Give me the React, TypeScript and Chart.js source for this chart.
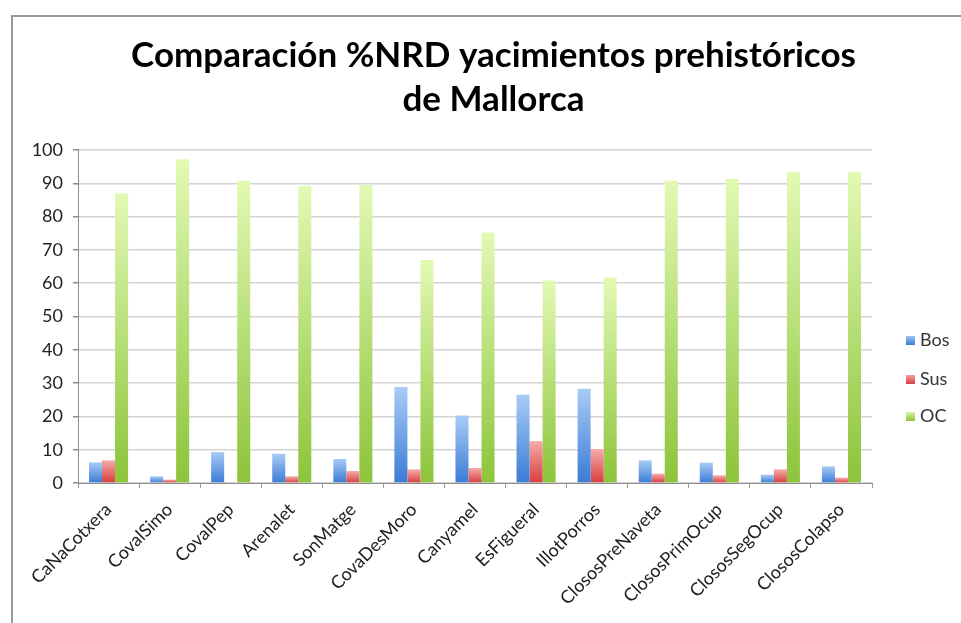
import React, { useEffect, useRef } from "react";
import { Chart, registerables } from "chart.js";

Chart.register(...registerables);

const categories = [
  "CaNaCotxera", "CovalSimo", "CovalPep", "Arenalet", "SonMatge", "CovaDesMoro",
  "Canyamel", "EsFigueral", "IllotPorros", "ClososPreNaveta", "ClososPrimOcup",
  "ClososSegOcup", "ClososColapso",
];
const bos = [6.2, 2.0, 9.3, 8.8, 7.2, 28.8, 20.3, 26.5, 28.3, 6.8, 6.1, 2.5, 5.0];
const sus = [6.8, 1.0, 0, 2.0, 3.6, 4.1, 4.5, 12.6, 10.2, 2.8, 2.3, 4.1, 1.6];
const oc = [87.0, 97.2, 90.8, 89.2, 89.5, 67.0, 75.2, 60.8, 61.7, 90.8, 91.4, 93.5, 93.5];
const seriesNames = ["Bos", "Sus", "OC"];
const titleLines = ["Comparación %NRD yacimientos prehistóricos", "de Mallorca"];

const FONT = "Lato, 'Open Sans', sans-serif";

const palettes = [
  { light: "#a9ccf6", dark: "#3a7bd5", solid: "#4f81bd" },
  { light: "#f6abab", dark: "#d83c3c", solid: "#c0504d" },
  { light: "#e2f9b4", dark: "#8cc43a", solid: "#9bbb59" },
];

function gradientFor(idx: number) {
  const p = palettes[idx];
  return (ctx: any) => {
    const chart = ctx.chart;
    if (ctx.type !== "data" || !chart.chartArea || !chart.scales.y) return p.solid;
    const ys = chart.scales.y;
    const top = ys.getPixelForValue(ctx.raw);
    const base = ys.getPixelForValue(0);
    if (!isFinite(top) || !isFinite(base) || Math.abs(base - top) < 0.5) return p.dark;
    const g = chart.ctx.createLinearGradient(0, top, 0, base);
    g.addColorStop(0, p.light);
    g.addColorStop(1, p.dark);
    return g;
  };
}

const framePlugin = {
  id: "frame",
  beforeDraw(chart: any) {
    const c = chart.ctx;
    c.save();
    c.fillStyle = "#ffffff";
    c.fillRect(0, 0, chart.width, chart.height);
    c.strokeStyle = "#9a9a9a";
    c.lineWidth = 2;
    c.beginPath();
    c.moveTo(12, chart.height + 5);
    c.lineTo(12, 16);
    c.lineTo(chart.width + 5, 16);
    c.stroke();
    c.restore();
  },
};

const legendPlugin = {
  id: "customLegend",
  afterDraw(chart: any) {
    const c = chart.ctx;
    c.save();
    const ys = [340, 379, 416];
    chart.data.datasets.forEach((ds: any, i: number) => {
      const p = palettes[i];
      const y = ys[i];
      const g = c.createLinearGradient(0, y - 5, 0, y + 5);
      g.addColorStop(0, p.light);
      g.addColorStop(1, p.dark);
      c.fillStyle = g;
      c.fillRect(906, y - 4, 9, 9);
      c.fillStyle = "#333333";
      c.font = `18px ${FONT}`;
      c.textBaseline = "middle";
      c.textAlign = "left";
      c.fillText(ds.label, 920, y);
    });
    c.restore();
  },
};

export default function App() {
  const ref = useRef<HTMLCanvasElement | null>(null);
  useEffect(() => {
    if (!ref.current) return;
    const chart = new Chart(ref.current, {
      type: "bar",
      data: {
        labels: categories,
        datasets: [bos, sus, oc].map((d, i) => ({
          label: seriesNames[i],
          data: d,
          backgroundColor: gradientFor(i),
          borderWidth: 0,
          barPercentage: 1.0,
          categoryPercentage: 0.64,
        })),
      },
      options: {
        animation: false,
        responsive: false,
        maintainAspectRatio: false,
        layout: { padding: { left: 26, top: 0, right: 0, bottom: 0 } },
        plugins: {
          legend: { display: false },
          tooltip: { enabled: false },
          title: {
            display: true,
            text: titleLines,
            color: "#000000",
            font: { family: FONT, size: 35, weight: "bold", lineHeight: 1.257 },
            padding: { top: 34, bottom: 28 },
          },
        },
        scales: {
          x: {
            grid: {
              offset: true,
              drawOnChartArea: false,
              drawTicks: true,
              tickLength: 5,
              tickColor: "#9a9a9a",
            },
            border: { color: "#8c8c8c", width: 1 },
            ticks: {
              maxRotation: 45,
              minRotation: 45,
              autoSkip: false,
              padding: 11,
              color: "#222222",
              font: { family: FONT, size: 18 },
            },
            afterFit(scale: any) {
              scale.height = 140;
            },
          },
          y: {
            min: 0,
            max: 100,
            ticks: {
              stepSize: 10,
              padding: 10,
              color: "#222222",
              font: { family: FONT, size: 18 },
            },
            grid: {
              color: "#d4d4d4",
              lineWidth: 1.5,
              drawTicks: true,
              tickLength: 5,
              tickColor: "#8c8c8c",
            },
            border: { color: "#8c8c8c", width: 1 },
            afterFit(scale: any) {
              scale.width = 52;
            },
          },
          yRightSpace: {
            position: "right",
            display: true,
            min: 0,
            max: 100,
            ticks: { display: false },
            grid: { display: false, drawOnChartArea: false, drawTicks: false },
            border: { display: false },
            afterFit(scale: any) {
              scale.width = 89;
            },
          },
        },
      },
      plugins: [framePlugin, legendPlugin],
    });
    return () => chart.destroy();
  }, []);
  return (
    <div style={{ position: "absolute", left: 0, top: 0, width: 961, height: 623, background: "#fff" }}>
      <canvas ref={ref} width={961} height={623} style={{ display: "block", width: 961, height: 623 }} />
    </div>
  );
}
